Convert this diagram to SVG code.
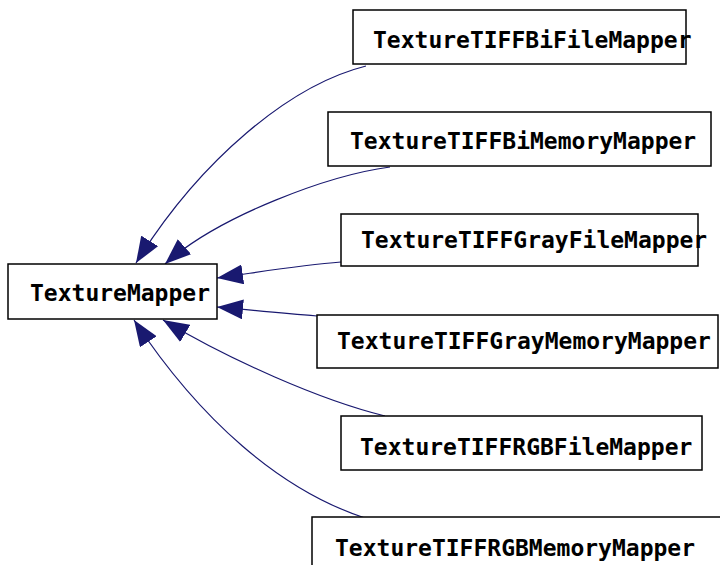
<svg xmlns="http://www.w3.org/2000/svg" width="720" height="565" viewBox="0 0 720 565">
<style>
.box{fill:#fff;stroke:#000;stroke-width:1.5}
.lbl{font-family:"DejaVu Sans Mono","Liberation Mono",monospace;font-weight:bold;font-size:23px;fill:#000}
.edge{fill:none;stroke:#191970;stroke-width:1.2;marker-end:url(#arr)}
</style>
<defs>
<marker id="arr" markerUnits="userSpaceOnUse" markerWidth="26" markerHeight="20" viewBox="0 0 26 20" refX="26" refY="10" orient="auto">
<path d="M0,0 L26,10 L0,20 z" fill="#191970"/>
</marker>
</defs>
<rect width="720" height="565" fill="#fff"/>
<g id="edges">
<path class="edge" d="M366,66 C290,85 200,160 136,263"/>
<path class="edge" d="M390,167 C330,175 220,215 165,264"/>
<path class="edge" d="M341,262 C300,265 260,272 217,278"/>
<path class="edge" d="M317,316 C280,313 250,310 217,307"/>
<path class="edge" d="M385,416 C320,400 230,360 163,320"/>
<path class="edge" d="M365,518 C280,490 200,420 134,320"/>
</g>
<g id="TextureMapper">
<rect class="box" x="8" y="264" width="209" height="55"/>
<text class="lbl" x="30" y="301">TextureMapper</text>
</g>
<g id="TextureTIFFBiFileMapper">
<rect class="box" x="353" y="10" width="333" height="54"/>
<text class="lbl" x="373" y="48">TextureTIFFBiFileMapper</text>
</g>
<g id="TextureTIFFBiMemoryMapper">
<rect class="box" x="328" y="112" width="383" height="54"/>
<text class="lbl" x="350" y="149">TextureTIFFBiMemoryMapper</text>
</g>
<g id="TextureTIFFGrayFileMapper">
<rect class="box" x="341" y="214" width="357" height="52"/>
<text class="lbl" x="361" y="248">TextureTIFFGrayFileMapper</text>
</g>
<g id="TextureTIFFGrayMemoryMapper">
<rect class="box" x="317" y="315" width="401" height="53"/>
<text class="lbl" x="337" y="349">TextureTIFFGrayMemoryMapper</text>
</g>
<g id="TextureTIFFRGBFileMapper">
<rect class="box" x="341" y="416" width="361" height="54"/>
<text class="lbl" x="360" y="455">TextureTIFFRGBFileMapper</text>
</g>
<g id="TextureTIFFRGBMemoryMapper">
<rect class="box" x="312" y="517" width="420" height="60"/>
<text class="lbl" x="335" y="556">TextureTIFFRGBMemoryMapper</text>
</g>
</svg>
